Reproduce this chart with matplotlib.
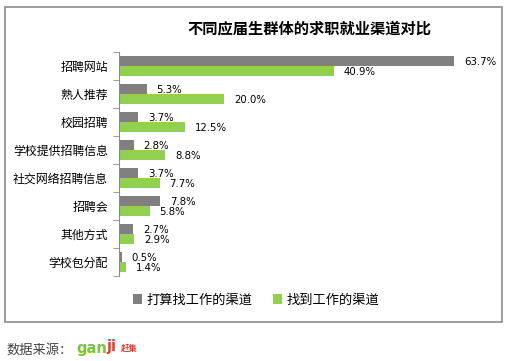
import matplotlib.pyplot as plt
import numpy as np
from matplotlib.patches import Rectangle

plt.rcParams['font.family'] = ['Noto Sans CJK SC', 'DejaVu Sans']

categories = ['招聘网站', '熟人推荐', '校园招聘', '学校提供招聘信息',
              '社交网络招聘信息', '招聘会', '其他方式', '学校包分配']
plan_vals = [63.7, 5.3, 3.7, 2.8, 3.7, 7.8, 2.7, 0.5]
found_vals = [40.9, 20.0, 12.5, 8.8, 7.7, 5.8, 2.9, 1.4]
series_names = ['打算找工作的渠道', '找到工作的渠道']

gray = '#808080'
green = '#92D050'

W, H = 509, 361
fig = plt.figure(figsize=(W / 100, H / 100), dpi=100)

# outer frame
fig.patches.append(Rectangle((5 / W, 1 - 322 / H), 497 / W, 315 / H,
                             transform=fig.transFigure, fill=False,
                             edgecolor='#8c8c8c', linewidth=1.2))

ax = fig.add_axes([119 / W, 1 - 276 / H, 383 / W, 224 / H])
y = np.arange(len(categories))
h = 0.35
ax.barh(y - h / 2, plan_vals, height=h, color=gray, label=series_names[0])
ax.barh(y + h / 2, found_vals, height=h, color=green, label=series_names[1])

ax.set_xlim(0, 72.8)
ax.set_ylim(len(categories) - 0.5, -0.5)

for i, (p, f) in enumerate(zip(plan_vals, found_vals)):
    ax.annotate(f'{p:.1f}%', (p, i - h / 2), xytext=(7, -0.5), textcoords='offset points',
                va='center', ha='left', fontsize=7.3, family='DejaVu Sans')
    ax.annotate(f'{f:.1f}%', (f, i + h / 2), xytext=(7, -1), textcoords='offset points',
                va='center', ha='left', fontsize=7.3, family='DejaVu Sans')

for s in ['top', 'right', 'bottom']:
    ax.spines[s].set_visible(False)
ax.spines['left'].set_color('#8c8c8c')
ax.set_xticks([])
ax.set_yticks(y)
ax.set_yticklabels(categories, fontsize=8.6)
ax.tick_params(axis='y', which='major', length=0, pad=8)
ax.set_yticks(np.arange(-0.5, len(categories)), minor=True)
ax.tick_params(axis='y', which='minor', length=4, color='#8c8c8c')

fig.text(309 / W, 1 - 28 / H, '不同应届生群体的求职就业渠道对比', ha='center', va='center',
         fontsize=11, fontweight='bold')

fig.legend(loc='center', bbox_to_anchor=(256 / W, 1 - 300 / H), ncol=2, frameon=False,
           fontsize=9.5, handlelength=0.7, handleheight=0.7, handletextpad=0.3,
           columnspacing=1.6)

fig.text(6 / W, 1 - 350 / H, '数据来源：', ha='left', va='center', fontsize=9.5, color='#444444')
fig.text(76 / W, 1 - 348 / H, 'gan', ha='left', va='center', fontsize=10.5, color='#7dc242',
         fontweight='bold', family='DejaVu Sans')
fig.text(106 / W, 1 - 347 / H, 'ji', ha='left', va='center', fontsize=10.5, color='#e03c31',
         fontweight='bold', family='DejaVu Sans')
fig.text(121 / W, 1 - 348 / H, '赶集', ha='left', va='center', fontsize=6, color='#e03c31',
         fontweight='bold')

fig.savefig('out.png', dpi=100)
